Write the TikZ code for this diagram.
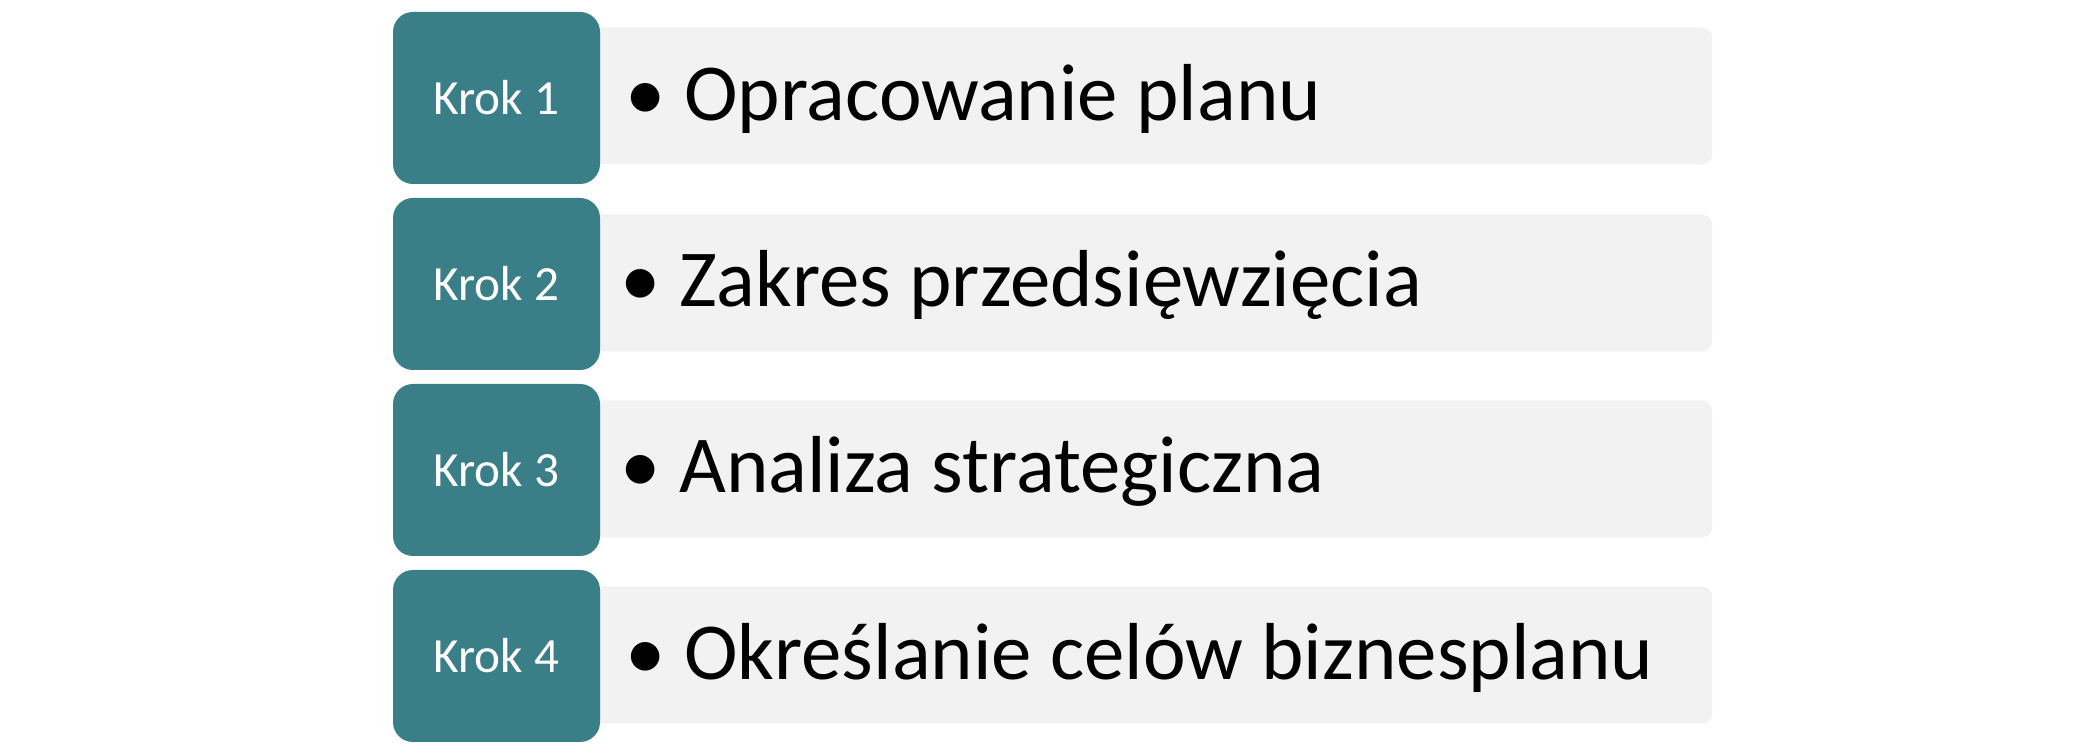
\documentclass[tikz,border=0pt]{standalone}
\usepackage{fontspec}
\setmainfont{Carlito}
\definecolor{krokteal}{RGB}{58,126,136}
\definecolor{bargray}{RGB}{242,242,242}
\tikzset{krok/.style={rounded corners=0.2cm,fill=krokteal,text=white,minimum width=2.07cm,minimum height=1.72cm,inner sep=0pt,font=\fontsize{14pt}{17pt}\selectfont}}
\tikzset{bar/.style={rounded corners=0.1cm,fill=bargray,minimum width=11.52cm,minimum height=1.37cm,inner sep=0pt}}
\tikzset{item/.style={anchor=base west,inner sep=0pt,font=\fontsize{23pt}{27pt}\selectfont}}
\begin{document}
\begin{tikzpicture}
    \path[fill=white] (0,0) rectangle (21,7.5);
    \node[bar] (bar1) at (11.36,6.54) {};
    \node[bar] (bar2) at (11.36,4.67) {};
    \node[bar] (bar3) at (11.36,2.81) {};
    \node[bar] (bar4) at (11.36,0.95) {};
    \node[krok] (krok1) at (4.965,6.52) {Krok 1};
    \node[krok] (krok2) at (4.965,4.66) {Krok 2};
    \node[krok] (krok3) at (4.965,2.80) {Krok 3};
    \node[krok] (krok4) at (4.965,0.94) {Krok 4};
    \node[item] (txt1) at (6.25,6.29) {\textbullet\ Opracowanie planu};
    \node[item] (txt2) at (6.20,4.43) {\textbullet\ Zakres przedsięwzięcia};
    \node[item] (txt3) at (6.20,2.57) {\textbullet\ Analiza strategiczna};
    \node[item] (txt4) at (6.25,0.71) {\textbullet\ Określanie celów biznesplanu};
  \end{tikzpicture}
\end{document}
